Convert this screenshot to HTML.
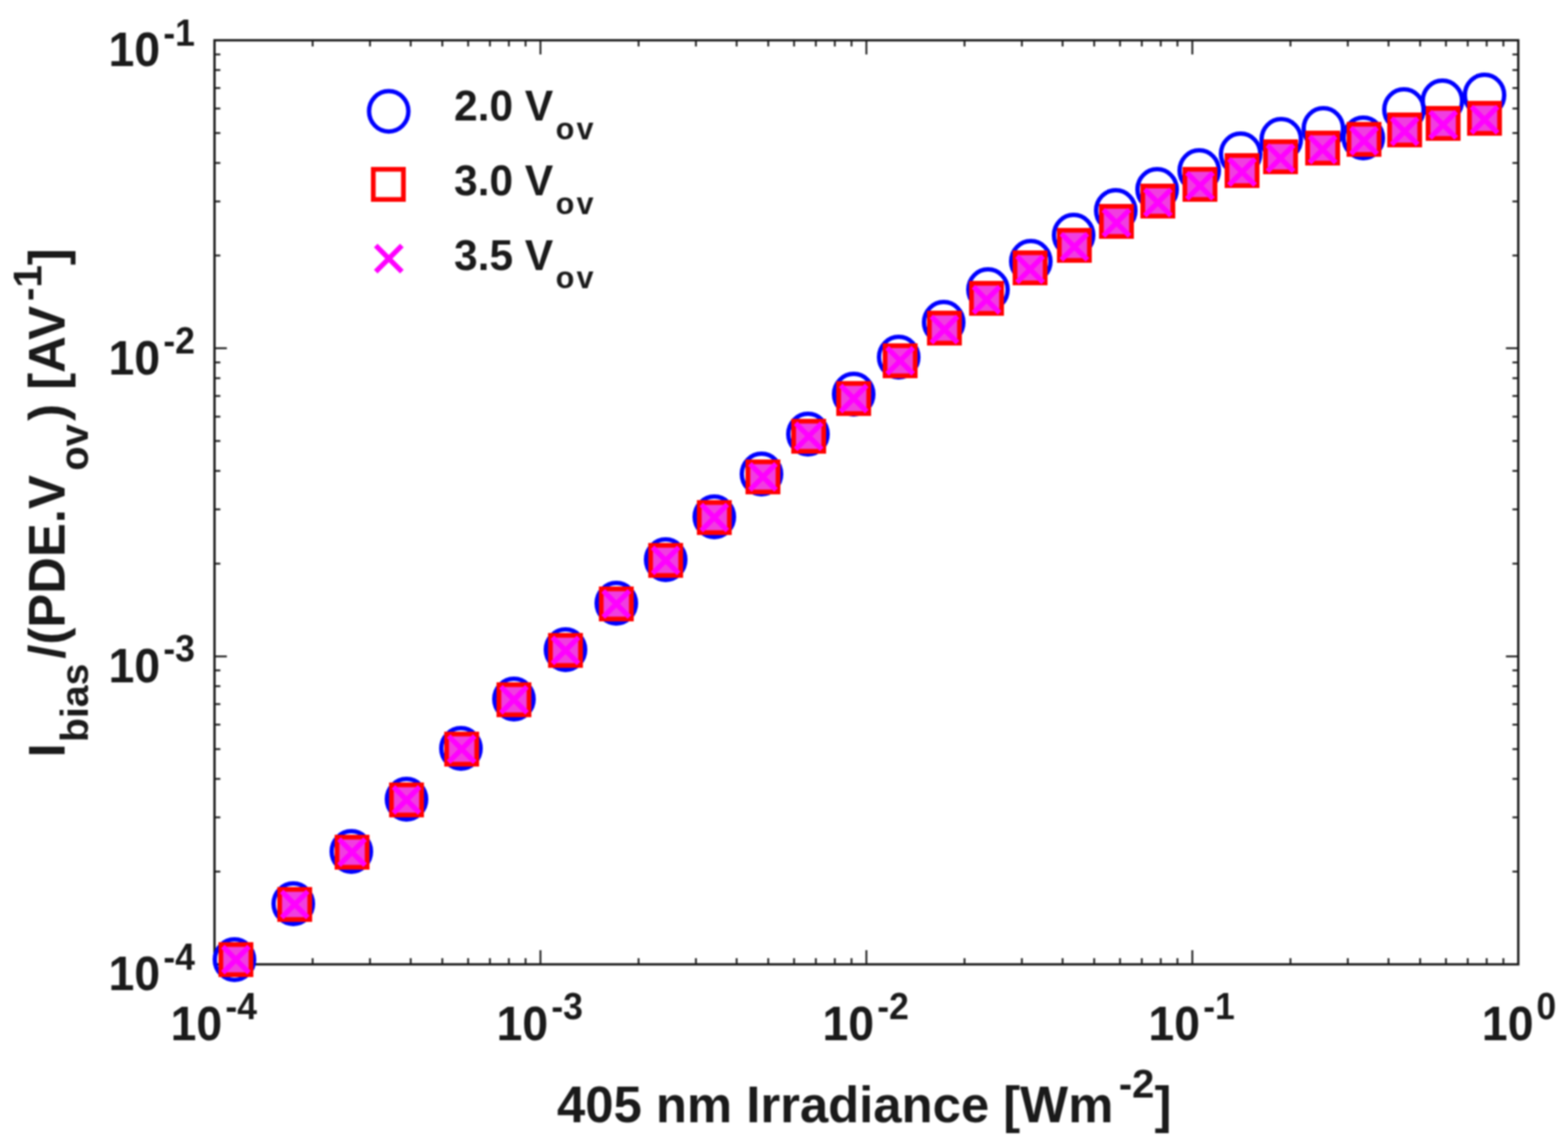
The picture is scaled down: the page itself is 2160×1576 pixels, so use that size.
<!DOCTYPE html><html><head><meta charset="utf-8"><style>html,body{margin:0;padding:0;background:#fff}svg{display:block;filter:blur(0.9px)}</style></head><body><svg width="2160" height="1576" viewBox="0 0 2160 1576">
<rect width="2160" height="1576" fill="#fff"/>
<path d="M295.5 1328.5v-19.5M295.5 55.5v19.5M430.7 1328.5v-8.5M430.7 55.5v8.5M509.7 1328.5v-8.5M509.7 55.5v8.5M565.8 1328.5v-8.5M565.8 55.5v8.5M609.3 1328.5v-8.5M609.3 55.5v8.5M644.9 1328.5v-8.5M644.9 55.5v8.5M674.9 1328.5v-8.5M674.9 55.5v8.5M701.0 1328.5v-8.5M701.0 55.5v8.5M724.0 1328.5v-8.5M724.0 55.5v8.5M744.5 1328.5v-19.5M744.5 55.5v19.5M879.7 1328.5v-8.5M879.7 55.5v8.5M958.7 1328.5v-8.5M958.7 55.5v8.5M1014.8 1328.5v-8.5M1014.8 55.5v8.5M1058.3 1328.5v-8.5M1058.3 55.5v8.5M1093.9 1328.5v-8.5M1093.9 55.5v8.5M1123.9 1328.5v-8.5M1123.9 55.5v8.5M1150.0 1328.5v-8.5M1150.0 55.5v8.5M1173.0 1328.5v-8.5M1173.0 55.5v8.5M1193.5 1328.5v-19.5M1193.5 55.5v19.5M1328.7 1328.5v-8.5M1328.7 55.5v8.5M1407.7 1328.5v-8.5M1407.7 55.5v8.5M1463.8 1328.5v-8.5M1463.8 55.5v8.5M1507.3 1328.5v-8.5M1507.3 55.5v8.5M1542.9 1328.5v-8.5M1542.9 55.5v8.5M1572.9 1328.5v-8.5M1572.9 55.5v8.5M1599.0 1328.5v-8.5M1599.0 55.5v8.5M1622.0 1328.5v-8.5M1622.0 55.5v8.5M1642.5 1328.5v-19.5M1642.5 55.5v19.5M1777.7 1328.5v-8.5M1777.7 55.5v8.5M1856.7 1328.5v-8.5M1856.7 55.5v8.5M1912.8 1328.5v-8.5M1912.8 55.5v8.5M1956.3 1328.5v-8.5M1956.3 55.5v8.5M1991.9 1328.5v-8.5M1991.9 55.5v8.5M2021.9 1328.5v-8.5M2021.9 55.5v8.5M2048.0 1328.5v-8.5M2048.0 55.5v8.5M2071.0 1328.5v-8.5M2071.0 55.5v8.5M2091.5 1328.5v-19.5M2091.5 55.5v19.5M295.5 1328.5h17M2091.5 1328.5h-17M295.5 1200.8h8M2091.5 1200.8h-8M295.5 1126.0h8M2091.5 1126.0h-8M295.5 1073.0h8M2091.5 1073.0h-8M295.5 1031.9h8M2091.5 1031.9h-8M295.5 998.3h8M2091.5 998.3h-8M295.5 969.9h8M2091.5 969.9h-8M295.5 945.3h8M2091.5 945.3h-8M295.5 923.6h8M2091.5 923.6h-8M295.5 904.2h17M2091.5 904.2h-17M295.5 776.4h8M2091.5 776.4h-8M295.5 701.7h8M2091.5 701.7h-8M295.5 648.7h8M2091.5 648.7h-8M295.5 607.6h8M2091.5 607.6h-8M295.5 574.0h8M2091.5 574.0h-8M295.5 545.6h8M2091.5 545.6h-8M295.5 521.0h8M2091.5 521.0h-8M295.5 499.2h8M2091.5 499.2h-8M295.5 479.8h17M2091.5 479.8h-17M295.5 352.1h8M2091.5 352.1h-8M295.5 277.4h8M2091.5 277.4h-8M295.5 224.4h8M2091.5 224.4h-8M295.5 183.2h8M2091.5 183.2h-8M295.5 149.6h8M2091.5 149.6h-8M295.5 121.2h8M2091.5 121.2h-8M295.5 96.6h8M2091.5 96.6h-8M295.5 74.9h8M2091.5 74.9h-8M295.5 55.5h17M2091.5 55.5h-17" stroke="#1a1a1a" stroke-width="2.5" fill="none"/>
<rect x="295.5" y="55.5" width="1796.0" height="1273.0" fill="none" stroke="#1a1a1a" stroke-width="3.2"/>
<g fill="none" stroke="#0000ff" stroke-width="6"><ellipse cx="323" cy="1322" rx="27.1" ry="27.9"/><ellipse cx="404" cy="1245" rx="27.1" ry="27.9"/><ellipse cx="484" cy="1173" rx="27.1" ry="27.9"/><ellipse cx="560" cy="1101" rx="27.1" ry="27.9"/><ellipse cx="635" cy="1031" rx="27.1" ry="27.9"/><ellipse cx="708" cy="963" rx="27.1" ry="27.9"/><ellipse cx="779" cy="895" rx="27.1" ry="27.9"/><ellipse cx="849" cy="831" rx="27.1" ry="27.9"/><ellipse cx="917" cy="771" rx="27.1" ry="27.9"/><ellipse cx="984" cy="712" rx="27.1" ry="27.9"/><ellipse cx="1049" cy="653" rx="27.1" ry="27.9"/><ellipse cx="1113" cy="598" rx="27.1" ry="27.9"/><ellipse cx="1176" cy="543" rx="27.1" ry="27.9"/><ellipse cx="1238" cy="492" rx="27.1" ry="27.9"/><ellipse cx="1300" cy="444" rx="27.1" ry="27.9"/><ellipse cx="1361" cy="399" rx="27.1" ry="27.9"/><ellipse cx="1420" cy="360" rx="27.1" ry="27.9"/><ellipse cx="1479" cy="324" rx="27.1" ry="27.9"/><ellipse cx="1537" cy="290" rx="27.1" ry="27.9"/><ellipse cx="1594" cy="261" rx="27.1" ry="27.9"/><ellipse cx="1652" cy="235" rx="27.1" ry="27.9"/><ellipse cx="1709" cy="212" rx="27.1" ry="27.9"/><ellipse cx="1765" cy="192" rx="27.1" ry="27.9"/><ellipse cx="1823" cy="177" rx="27.1" ry="27.9"/><ellipse cx="1878" cy="190" rx="27.1" ry="27.9"/><ellipse cx="1934" cy="151" rx="27.1" ry="27.9"/><ellipse cx="1987" cy="139" rx="27.1" ry="27.9"/><ellipse cx="2045" cy="131" rx="27.1" ry="27.9"/><ellipse cx="535.5" cy="153.3" rx="27.1" ry="27.9"/></g>
<g fill="#f03ee0" stroke="none"><rect x="304.25" y="1301.25" width="41.5" height="41.5"/><rect x="385.25" y="1225.25" width="41.5" height="41.5"/><rect x="464.25" y="1153.25" width="41.5" height="41.5"/><rect x="539.25" y="1081.25" width="41.5" height="41.5"/><rect x="615.25" y="1011.25" width="41.5" height="41.5"/><rect x="687.25" y="943.25" width="41.5" height="41.5"/><rect x="758.25" y="875.25" width="41.5" height="41.5"/><rect x="828.25" y="811.25" width="41.5" height="41.5"/><rect x="896.25" y="751.25" width="41.5" height="41.5"/><rect x="963.25" y="692.25" width="41.5" height="41.5"/><rect x="1030.25" y="636.25" width="41.5" height="41.5"/><rect x="1093.25" y="580.25" width="41.5" height="41.5"/><rect x="1155.25" y="528.25" width="41.5" height="41.5"/><rect x="1219.25" y="476.25" width="41.5" height="41.5"/><rect x="1280.25" y="431.25" width="41.5" height="41.5"/><rect x="1338.25" y="390.25" width="41.5" height="41.5"/><rect x="1398.25" y="348.25" width="41.5" height="41.5"/><rect x="1459.25" y="317.25" width="41.5" height="41.5"/><rect x="1517.25" y="284.25" width="41.5" height="41.5"/><rect x="1574.25" y="256.25" width="41.5" height="41.5"/><rect x="1632.25" y="233.25" width="41.5" height="41.5"/><rect x="1690.25" y="214.25" width="41.5" height="41.5"/><rect x="1743.25" y="195.25" width="41.5" height="41.5"/><rect x="1801.25" y="183.25" width="41.5" height="41.5"/><rect x="1858.25" y="171.25" width="41.5" height="41.5"/><rect x="1914.25" y="158.25" width="41.5" height="41.5"/><rect x="1967.25" y="149.25" width="41.5" height="41.5"/><rect x="2024.25" y="142.25" width="41.5" height="41.5"/></g>
<g fill="none" stroke="#ff0000" stroke-width="6.5"><rect x="304.25" y="1301.25" width="41.5" height="41.5"/><rect x="385.25" y="1225.25" width="41.5" height="41.5"/><rect x="464.25" y="1153.25" width="41.5" height="41.5"/><rect x="539.25" y="1081.25" width="41.5" height="41.5"/><rect x="615.25" y="1011.25" width="41.5" height="41.5"/><rect x="687.25" y="943.25" width="41.5" height="41.5"/><rect x="758.25" y="875.25" width="41.5" height="41.5"/><rect x="828.25" y="811.25" width="41.5" height="41.5"/><rect x="896.25" y="751.25" width="41.5" height="41.5"/><rect x="963.25" y="692.25" width="41.5" height="41.5"/><rect x="1030.25" y="636.25" width="41.5" height="41.5"/><rect x="1093.25" y="580.25" width="41.5" height="41.5"/><rect x="1155.25" y="528.25" width="41.5" height="41.5"/><rect x="1219.25" y="476.25" width="41.5" height="41.5"/><rect x="1280.25" y="431.25" width="41.5" height="41.5"/><rect x="1338.25" y="390.25" width="41.5" height="41.5"/><rect x="1398.25" y="348.25" width="41.5" height="41.5"/><rect x="1459.25" y="317.25" width="41.5" height="41.5"/><rect x="1517.25" y="284.25" width="41.5" height="41.5"/><rect x="1574.25" y="256.25" width="41.5" height="41.5"/><rect x="1632.25" y="233.25" width="41.5" height="41.5"/><rect x="1690.25" y="214.25" width="41.5" height="41.5"/><rect x="1743.25" y="195.25" width="41.5" height="41.5"/><rect x="1801.25" y="183.25" width="41.5" height="41.5"/><rect x="1858.25" y="171.25" width="41.5" height="41.5"/><rect x="1914.25" y="158.25" width="41.5" height="41.5"/><rect x="1967.25" y="149.25" width="41.5" height="41.5"/><rect x="2024.25" y="142.25" width="41.5" height="41.5"/><rect x="514.25" y="233.25" width="41.5" height="41.5"/></g>
<g fill="none" stroke="#ff00ff" stroke-width="7"><path d="M307 1304L343 1340M307 1340L343 1304"/><path d="M388 1228L424 1264M388 1264L424 1228"/><path d="M467 1156L503 1192M467 1192L503 1156"/><path d="M542 1084L578 1120M542 1120L578 1084"/><path d="M618 1014L654 1050M618 1050L654 1014"/><path d="M690 946L726 982M690 982L726 946"/><path d="M761 878L797 914M761 914L797 878"/><path d="M831 814L867 850M831 850L867 814"/><path d="M899 754L935 790M899 790L935 754"/><path d="M966 695L1002 731M966 731L1002 695"/><path d="M1033 639L1069 675M1033 675L1069 639"/><path d="M1096 583L1132 619M1096 619L1132 583"/><path d="M1158 531L1194 567M1158 567L1194 531"/><path d="M1222 479L1258 515M1222 515L1258 479"/><path d="M1283 436L1319 472M1283 472L1319 436"/><path d="M1341 395L1377 431M1341 431L1377 395"/><path d="M1401 353L1437 389M1401 389L1437 353"/><path d="M1462 322L1498 358M1462 358L1498 322"/><path d="M1520 289L1556 325M1520 325L1556 289"/><path d="M1577 261L1613 297M1577 297L1613 261"/><path d="M1635 238L1671 274M1635 274L1671 238"/><path d="M1693 219L1729 255M1693 255L1729 219"/><path d="M1746 200L1782 236M1746 236L1782 200"/><path d="M1804 188L1840 224M1804 224L1840 188"/><path d="M1861 176L1897 212M1861 212L1897 176"/><path d="M1917 163L1953 199M1917 199L1953 163"/><path d="M1970 154L2006 190M1970 190L2006 154"/><path d="M2027 147L2063 183M2027 183L2063 147"/><path d="M517.6 338.3L553.6 374.3M517.6 374.3L553.6 338.3"/></g>
<g font-family="'Liberation Sans', Arial, sans-serif" font-weight="bold" fill="#1a1a1a">
<text transform="translate(149.5 91.3) scale(1 1.03)" font-size="64">10</text><text transform="translate(225 62.5) scale(1 1.06)" font-size="49">-1</text>
<text transform="translate(149.5 515.6) scale(1 1.03)" font-size="64">10</text><text transform="translate(225 486.8) scale(1 1.06)" font-size="49">-2</text>
<text transform="translate(149.5 940.0) scale(1 1.03)" font-size="64">10</text><text transform="translate(225 911.2) scale(1 1.06)" font-size="49">-3</text>
<text transform="translate(149.5 1364.3) scale(1 1.03)" font-size="64">10</text><text transform="translate(225 1335.5) scale(1 1.06)" font-size="49">-4</text>
<text transform="translate(235.0 1433) scale(1 1.03)" font-size="64">10</text><text transform="translate(310.5 1404) scale(1 1.06)" font-size="49">-4</text>
<text transform="translate(684.0 1433) scale(1 1.03)" font-size="64">10</text><text transform="translate(759.5 1404) scale(1 1.06)" font-size="49">-3</text>
<text transform="translate(1133.0 1433) scale(1 1.03)" font-size="64">10</text><text transform="translate(1208.5 1404) scale(1 1.06)" font-size="49">-2</text>
<text transform="translate(1582.0 1433) scale(1 1.03)" font-size="64">10</text><text transform="translate(1657.5 1404) scale(1 1.06)" font-size="49">-1</text>
<text transform="translate(2041.3 1433) scale(1 1.03)" font-size="64">10</text><text transform="translate(2116.5 1404) scale(1 1.06)" font-size="49">0</text>
<text x="625.5" y="166" font-size="58.5">2.0 V</text><text x="765.5" y="191.6" font-size="42" letter-spacing="3">ov</text>
<text x="625.5" y="269" font-size="58.5">3.0 V</text><text x="765.5" y="294.6" font-size="42" letter-spacing="3">ov</text>
<text x="625.5" y="371.5" font-size="58.5">3.5 V</text><text x="765.5" y="397.1" font-size="42" letter-spacing="3">ov</text>
<text x="767.3" y="1545.5" font-size="70">405 nm Irradiance [Wm</text><text x="1541.3" y="1512.2" font-size="55">-2</text><text x="1590.6" y="1545.5" font-size="70">]</text>
<g transform="translate(88.6 1040) rotate(-90)"><text x="-3.5" y="0" font-size="70">I</text><text x="17.8" y="32.1" font-size="54">bias</text><text x="132.5" y="0" font-size="70">/(PDE.V</text><text x="391.4" y="32.5" font-size="55">ov</text><text x="460.3" y="0" font-size="70">) [AV</text><text x="625.2" y="-31.8" font-size="56">-1</text><text x="674.7" y="0" font-size="70">]</text></g>
</g></svg></body></html>
